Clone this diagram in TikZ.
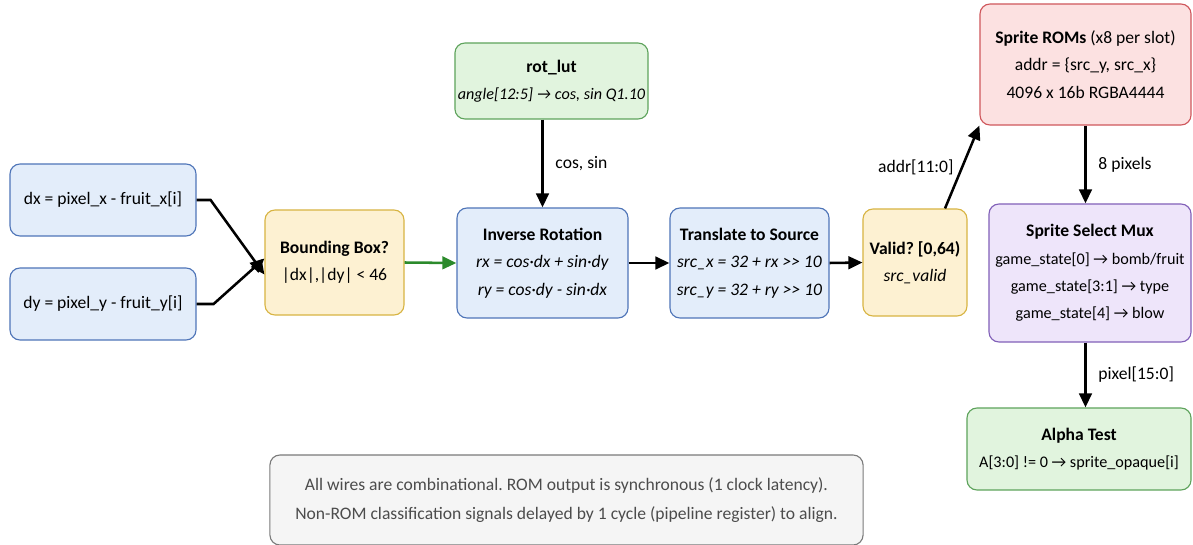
\documentclass[tikz,border=0pt]{standalone}
\usepackage{fontspec}
\setmainfont{Carlito}
\usetikzlibrary{arrows.meta}
\frenchspacing

\definecolor{bluefill}{HTML}{E3EDFA}
\definecolor{blueline}{HTML}{4F75B8}
\definecolor{yelfill}{HTML}{FDF1D2}
\definecolor{yelline}{HTML}{D8B443}
\definecolor{grnfill}{HTML}{E1F4DE}
\definecolor{grnline}{HTML}{5EA35C}
\definecolor{redfill}{HTML}{FCE1E1}
\definecolor{redline}{HTML}{CF575C}
\definecolor{purfill}{HTML}{EEE5FA}
\definecolor{purline}{HTML}{8160B8}
\definecolor{notefill}{HTML}{F5F5F5}
\definecolor{noteline}{HTML}{7A7A7A}
\definecolor{greenarrow}{HTML}{2B8A2B}

\newcommand{\shr}{\textgreater{}\textgreater{}}

\tikzset{
  blk/.style={draw, rounded corners=0.25cm, line width=0.8pt, align=center, inner sep=2pt,
    font=\fontsize{12.5}{19.5}\selectfont},
  tight/.style={font=\fontsize{11.5}{19.5}\selectfont},
  bluebox/.style={blk, fill=bluefill, draw=blueline},
  yelbox/.style={blk, fill=yelfill, draw=yelline},
  grnbox/.style={blk, fill=grnfill, draw=grnline},
  redbox/.style={blk, fill=redfill, draw=redline},
  purbox/.style={blk, fill=purfill, draw=purline},
  notebox/.style={blk, fill=notefill, draw=noteline, text=black!70, font=\fontsize{12.5}{21}\selectfont},
  wire/.style={line width=1.8pt, -{Triangle[length=10pt,width=9pt]}},
  lbl/.style={font=\fontsize{12.5}{15}\selectfont}
}

\begin{document}
\begin{tikzpicture}[x=0.025cm, y=-0.025cm]
\useasboundingbox (0,0) rectangle (1193,545);
%inputs
        \node[bluebox, minimum width=4.65cm, minimum height=1.8cm] (dx) at (103,200) {dx = pixel\_x - fruit\_x[i]};
        \node[bluebox, minimum width=4.65cm, minimum height=1.8cm] (dy) at (103,304) {dy = pixel\_y - fruit\_y[i]};
        \node[yelbox, minimum width=3.475cm, minimum height=2.625cm] (bb) at (334.5,262.5) {\textbf{Bounding Box?}\\ |dx|,|dy| < 46};

%rotation
        \node[grnbox, minimum width=4.725cm, minimum height=1.9cm] (lut) at (551.5,81) {\textbf{rot\_lut}\\ {\fontsize{11.5}{14}\selectfont\textit{angle[12:5] → cos, sin Q1.10}}};
        \node[bluebox, minimum width=4.275cm, minimum height=2.75cm] (rot) at (542.5,263) {\textbf{Inverse Rotation}\\ \textit{rx = cos·dx + sin·dy}\\ \textit{ry = cos·dy - sin·dx}};
        \node[bluebox, minimum width=3.975cm, minimum height=2.75cm] (src) at (749.5,263) {\textbf{Translate to Source}\\ \textit{src\_x = 32 + rx \shr{} 10}\\ \textit{src\_y = 32 + ry \shr{} 10}};
        \node[yelbox, minimum width=2.6cm, minimum height=2.675cm] (valid) at (915,262.5) {\textbf{Valid? [0,64)}\\ \textit{src\_valid}};

%sprite
        \node[redbox, minimum width=5.275cm, minimum height=3.025cm] (rom) at (1085.5,64.5) {\textbf{Sprite ROMs} (x8 per slot)\\ addr = \{src\_y, src\_x\}\\ 4096 x 16b RGBA4444};
        \node[purbox, tight, minimum width=5.05cm, minimum height=3.45cm] (mux) at (1090,273) {\textbf{\fontsize{12.5}{19.5}\selectfont Sprite Select Mux}\\ game\_state[0] → bomb/fruit\\ game\_state[3:1] → type\\ game\_state[4] → blow};
        \node[grnbox, tight, minimum width=5.6cm, minimum height=2.05cm] (alpha) at (1079,449) {\textbf{\fontsize{12.5}{19.5}\selectfont Alpha Test}\\ A[3:0] != 0 → sprite\_opaque[i]};

        \node[notebox, minimum width=14.825cm, minimum height=2.25cm] (note) at (566.5,500) {All wires are combinational. ROM output is synchronous (1 clock latency).\\ Non-ROM classification signals delayed by 1 cycle (pipeline register) to align.};

%wires
        \draw [wire] (dx.east) -- ++(14,0) -- ([yshift=-0.3cm]bb.west);
        \draw [wire] (dy.east) -- ++(17,0) -- ([yshift=0.1cm]bb.west);
        \draw [wire, draw=greenarrow, fill=greenarrow] (bb.east) -- (rot.west);
        \draw [wire] (lut.south -| rot.north) -- node[lbl, right=5pt] {cos, sin} (rot.north);
        \draw [wire] (rot.east) -- (src.west);
        \draw [wire] (src.east) -- (valid.west);
        \draw [wire] ([xshift=0.75cm]valid.north) -- node[lbl, left=2pt] {addr[11:0]} (rom.south west);
        \draw [wire] (rom.south) -- node[lbl, right=5pt] {8 pixels} (rom.south |- mux.north);
        \draw [wire] (rom.south |- mux.south) -- node[lbl, right=5pt] {pixel[15:0]} (rom.south |- alpha.north);
\end{tikzpicture}
\end{document}
